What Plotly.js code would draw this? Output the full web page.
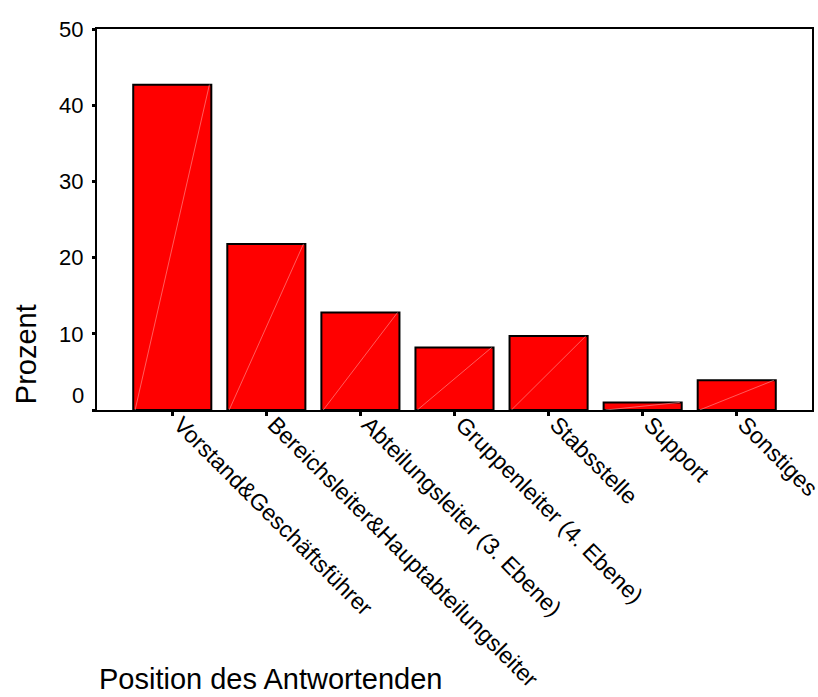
<!DOCTYPE html>
<html>
<head>
<meta charset="utf-8">
<script src="https://cdn.plot.ly/plotly-3.0.1.min.js"></script>
<style>html,body{margin:0;padding:0;background:#fff;}#chart{width:818px;height:697px;}</style>
</head>
<body>
<div id="chart"></div>
<script>
const categories = ["Vorstand&Geschäftsführer", "Bereichsleiter&Hauptabteilungsleiter", "Abteilungsleiter (3. Ebene)", "Gruppenleiter (4. Ebene)", "Stabsstelle", "Support", "Sonstiges"];
const percent = [42.7, 21.8, 12.8, 8.2, 9.7, 1.0, 3.9];
const yTicks = [0, 10, 20, 30, 40, 50];
const xTitle = "Position des Antwortenden";
const yTitle = "Prozent";

const font = "Liberation Sans, Arial, sans-serif";
const barWidth = 0.83;
const idx = categories.map((_, i) => i);

// faint diagonal line inside each bar (bottom-left to top-right corner)
const diagX = [], diagY = [];
idx.forEach(i => {
  diagX.push(i - barWidth / 2 + 0.02, i + barWidth / 2 - 0.02, null);
  diagY.push(0, percent[i], null);
});

Plotly.newPlot("chart", [{
  type: "bar",
  x: idx,
  y: percent,
  width: barWidth,
  marker: {color: "#ff0000", line: {color: "#000000", width: 2}},
  hoverinfo: "none"
}, {
  type: "scatter", mode: "lines",
  x: diagX, y: diagY,
  line: {color: "#ff9a9a", width: 0.6},
  hoverinfo: "none", connectgaps: false
}], {
  width: 818, height: 697,
  margin: {l: 97, r: 6, t: 29, b: 287},
  paper_bgcolor: "#ffffff", plot_bgcolor: "#ffffff",
  showlegend: false,
  font: {family: font, size: 22, color: "#000"},
  xaxis: {
    range: [-0.8, 6.8],
    tickvals: idx, ticktext: categories,
    showline: true, mirror: true, linecolor: "#000", linewidth: 2,
    showgrid: false, zeroline: false,
    ticks: "outside", ticklen: 4, tickwidth: 3, tickcolor: "#000",
    tickangle: 45, tickfont: {family: font, size: 23},
    ticklabelstandoff: -14, ticklabelshift: 8,
    ticklabeloverflow: "allow"
  },
  yaxis: {
    range: [0, 50], tickvals: yTicks,
    ticktext: yTicks.map(v => v === 0 ? "" : String(v)),
    showline: true, mirror: true, linecolor: "#000", linewidth: 2,
    showgrid: false, zeroline: false,
    ticks: "outside", ticklen: 3, tickwidth: 3, tickcolor: "#000",
    ticklabelstandoff: 4,
    tickfont: {family: font, size: 22}
  },
  annotations: [
    {text: String(yTicks[0]), xref: "paper", yref: "y", x: 0, y: yTicks[0], xanchor: "right", yanchor: "middle", xshift: -11, yshift: 15, showarrow: false, font: {family: font, size: 22}},
    {text: xTitle, xref: "paper", yref: "paper", x: 0, y: -0.706, xanchor: "left", yanchor: "middle", showarrow: false, font: {family: font, size: 29}},
    {text: yTitle, xref: "paper", yref: "paper", x: -0.099, y: 0.147, xanchor: "center", yanchor: "middle", textangle: -90, showarrow: false, font: {family: font, size: 29}}
  ]
}, {staticPlot: true});
</script>
</body>
</html>
